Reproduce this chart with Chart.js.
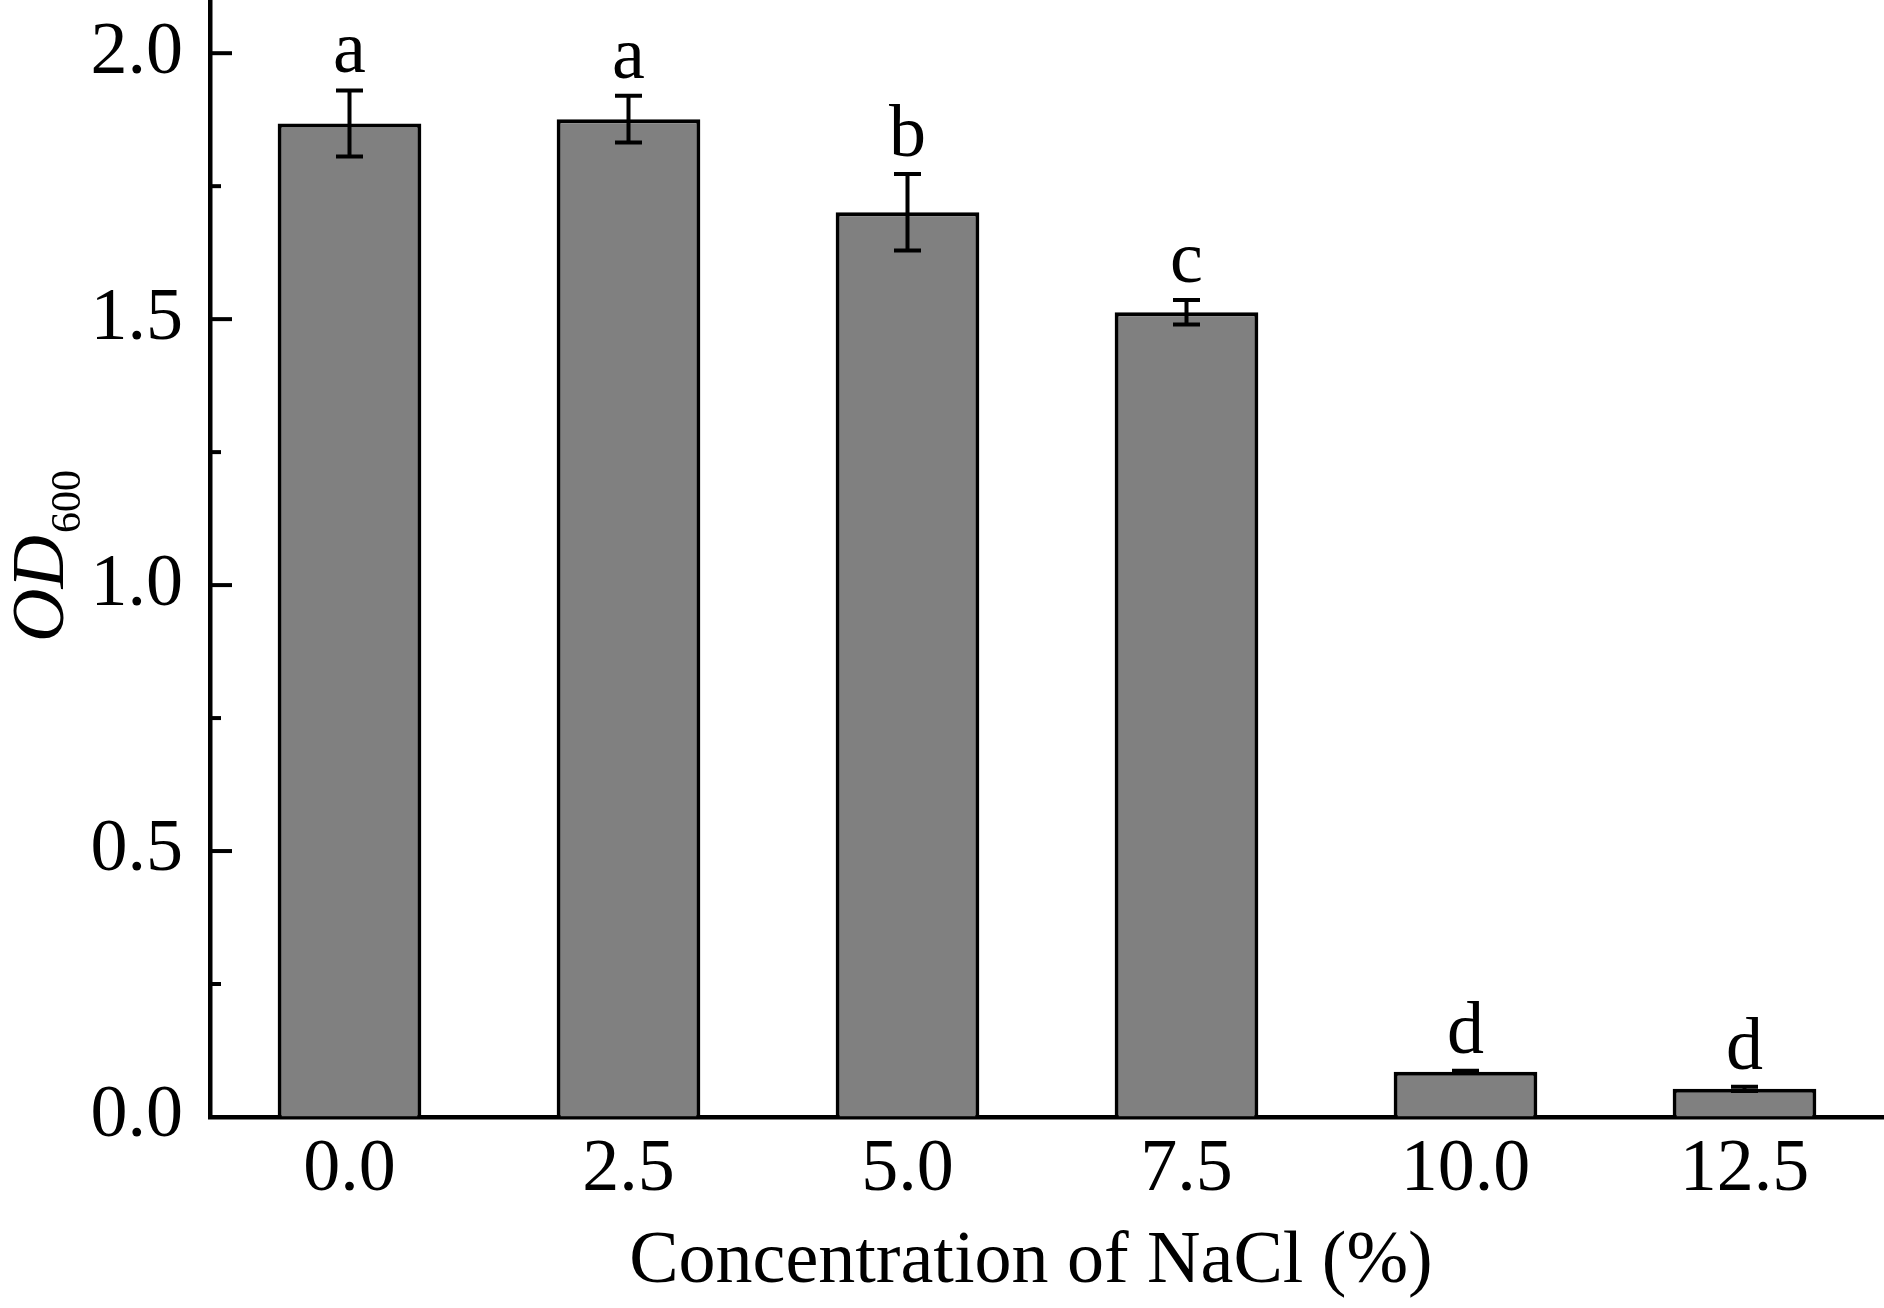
<!DOCTYPE html>
<html>
<head>
<meta charset="utf-8">
<script src="https://cdn.jsdelivr.net/npm/chart.js@4.4.1/dist/chart.umd.min.js"></script>
<style>
  html, body { margin: 0; padding: 0; background: #fff; }
  canvas { display: block; }
</style>
</head>
<body>
<canvas id="odChart" width="1884" height="1308" style="width:1884px;height:1308px"></canvas>
<script>
// Data
const concentrations = ['0.0', '2.5', '5.0', '7.5', '10.0', '12.5'];
const od600 = [1.868, 1.876, 1.701, 1.513, 0.085, 0.053];
const od600Err = [0.062, 0.044, 0.072, 0.023, 0.002, 0.004];
const groupLetters = ['a', 'a', 'b', 'c', 'd', 'd'];

const serif = "'Liberation Serif', 'Times New Roman', serif";
Chart.defaults.font.family = serif;
Chart.defaults.color = '#000';

// inward tick marks on the y axis (major every 0.5, minor between)
const innerTicks = {
    id: 'innerTicks',
    afterDraw(chart) {
        const y = chart.scales.y;
        const ctx = chart.ctx;
        const left = chart.chartArea.left;
        ctx.save();
        ctx.strokeStyle = '#000';
        ctx.lineWidth = 4;
        y.ticks.forEach(t => {
            const major = Math.round(t.value * 4) % 2 === 0;
            const py = y.getPixelForValue(t.value);
            ctx.beginPath();
            ctx.moveTo(left, py);
            ctx.lineTo(left + (major ? 22 : 11), py);
            ctx.stroke();
        });
        ctx.restore();
    }
};

// error bars and significance letters
const errorBars = {
    id: 'errorBars',
    afterDatasetsDraw(chart) {
        const ctx = chart.ctx;
        const y = chart.scales.y;
        const meta = chart.getDatasetMeta(0);
        ctx.save();
        ctx.strokeStyle = '#000';
        ctx.lineWidth = 4;
        meta.data.forEach((bar, i) => {
            const top = y.getPixelForValue(od600[i] + od600Err[i]);
            const bottom = y.getPixelForValue(od600[i] - od600Err[i]);
            const cap = 13.5;
            ctx.beginPath();
            ctx.moveTo(bar.x, top);
            ctx.lineTo(bar.x, bottom);
            ctx.moveTo(bar.x - cap, top);
            ctx.lineTo(bar.x + cap, top);
            ctx.moveTo(bar.x - cap, bottom);
            ctx.lineTo(bar.x + cap, bottom);
            ctx.stroke();

            ctx.fillStyle = '#000';
            ctx.font = '74px ' + serif;
            ctx.textAlign = 'center';
            ctx.textBaseline = 'alphabetic';
            ctx.fillText(groupLetters[i], bar.x, top - 18);
        });
        ctx.restore();
    }
};

// axis titles (y title needs italic + subscript)
const axisTitles = {
    id: 'axisTitles',
    afterDraw(chart) {
        const ctx = chart.ctx;
        const area = chart.chartArea;
        ctx.save();
        ctx.fillStyle = '#000';
        ctx.textBaseline = 'alphabetic';

        ctx.font = '74px ' + serif;
        ctx.textAlign = 'center';
        ctx.fillText('Concentration of NaCl (%)', area.left + 821, 1282);

        ctx.translate(63, 642);
        ctx.rotate(-Math.PI / 2);
        ctx.textAlign = 'left';
        ctx.font = 'italic 74px ' + serif;
        ctx.fillText('OD', 0, 0);
        const w = ctx.measureText('OD').width;
        ctx.font = '42px ' + serif;
        ctx.fillText('600', w + 2, 17);
        ctx.restore();
    }
};

new Chart(document.getElementById('odChart'), {
    type: 'bar',
    data: {
        labels: concentrations,
        datasets: [{
            data: od600,
            backgroundColor: '#808080',
            borderColor: '#000',
            borderWidth: 4,
            barPercentage: 0.515,
            categoryPercentage: 1.0
        }]
    },
    options: {
        responsive: false,
        devicePixelRatio: 1,
        animation: false,
        layout: { padding: 0 },
        plugins: {
            legend: { display: false },
            tooltip: { enabled: false }
        },
        scales: {
            x: {
                grid: { display: true, drawOnChartArea: false, drawTicks: false },
                border: { display: true, color: '#000', width: 4.5 },
                ticks: { font: { size: 74 }, padding: 9, maxRotation: 0 },
                afterFit(scale) {
                    scale.height = 191;
                    scale.paddingLeft = 0;
                    scale.paddingRight = 0;
                }
            },
            y: {
                min: 0,
                max: 2.1,
                grid: { display: true, drawOnChartArea: false, drawTicks: false },
                border: { display: true, color: '#000', width: 4.5 },
                ticks: {
                    stepSize: 0.25,
                    includeBounds: false,
                    padding: 27,
                    font: { size: 74 },
                    callback: v => (Math.round(v * 4) % 2 === 0 ? v.toFixed(1) : '')
                },
                afterFit(scale) {
                    scale.width = 210;
                    scale.paddingTop = 0;
                    scale.paddingBottom = 0;
                }
            }
        }
    },
    plugins: [innerTicks, errorBars, axisTitles]
});
</script>
</body>
</html>
